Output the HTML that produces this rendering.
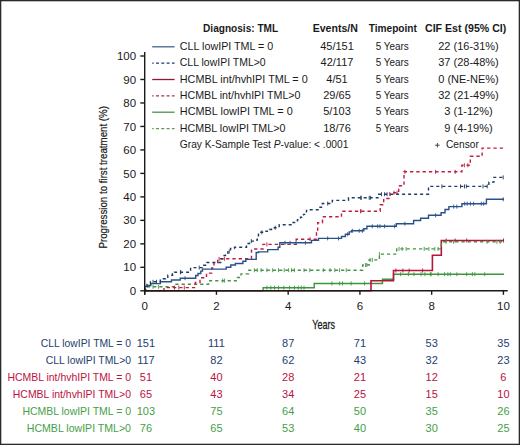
<!DOCTYPE html>
<html><head><meta charset="utf-8"><style>
html,body{margin:0;padding:0;background:#fff;}
svg{display:block;font-family:"Liberation Sans",sans-serif;}
</style></head><body>
<svg width="520" height="445" viewBox="0 0 520 445">
<rect x="0" y="0" width="520" height="445" fill="#fff"/>
<path d="M144.7,290.8H263.1V287.7H314.2V283.5H382.5V279.2H393.5V274.2H504" fill="none" stroke="#3c963c" stroke-width="1.4"/>
<path d="M266.9,285.7v4M270.8,285.7v4M274.6,285.7v4M278.5,285.7v4M283.8,285.7v4M289.6,285.7v4M294.4,285.7v4M298.3,285.7v4M301.2,285.7v4M304,285.7v4M331.9,281.5v4M339.6,281.5v4M342.5,281.5v4M351.2,281.5v4M364.6,281.5v4M400.6,272.2v4M408.4,272.2v4M413.9,272.2v4M421,272.2v4M424.9,272.2v4M430.4,272.2v4M431.2,272.2v4M438.1,272.2v4M444.6,272.2v4M447.9,272.2v4M450.3,272.2v4M456.9,272.2v4M466.7,272.2v4M472.4,272.2v4M474.9,272.2v4M484.7,272.2v4" stroke="#3c963c" stroke-width="0.9" fill="none"/>
<path d="M144.7,290.8H371V280.8H393.5V270.5H432.4V255.2H441.3V240.5H504" fill="none" stroke="#b8143a" stroke-width="1.6"/>
<path d="M395.9,268.5v4M402.9,268.5v4M409.2,268.5v4M422.6,268.5v4M446.2,238.5v4M455.2,238.5v4M466.7,238.5v4M503.5,238.5v4" stroke="#b8143a" stroke-width="0.9" fill="none"/>
<path d="M144.7,290.8H146V286.8H176V284.3H208.6V280.7H236.2V277.5H241V273.9H248.7V270.2H362.7V265H369.1V259.9H379.4V254.1H396.7V248.9H441.3V241.8H504" fill="none" stroke="#4a9245" stroke-width="1.4" stroke-dasharray="3.2,3"/>
<path d="M153,284.8v4M158.4,284.8v4M222.7,278.7v4M224.6,278.7v4M254.4,268.2v4M257.3,268.2v4M261.2,268.2v4M266.9,268.2v4M272.7,268.2v4M278.5,268.2v4M284.2,268.2v4M288.7,268.2v4M291.5,268.2v4M294.4,268.2v4M304,268.2v4M309.8,268.2v4M323.3,268.2v4M330,268.2v4M334.8,268.2v4M339.6,268.2v4M346.3,268.2v4M365.6,263v4M366.8,263v4M370,257.9v4M372.3,257.9v4M379.4,252.1v4M399,246.9v4M402.2,246.9v4M406.1,246.9v4M424.2,246.9v4M428.9,246.9v4M434.8,246.9v4M438.1,246.9v4M446,239.8v4M453.6,239.8v4M487.1,239.8v4M496.9,239.8v4M500.2,239.8v4" stroke="#4a9245" stroke-width="0.9" fill="none"/>
<path d="M144.7,290.8H164V287.6H195.3V282.5H200V277.8H206.5V273.1H211.8V268H214V262.9H217.7V258.8H251.5V249H263V244.4H296.2V239.2H316.5V232.7H317.7V222.7H322.5V216.8H341.5V211.2H380.2V204.8H383.7V198.5H390V192.7H398.7V185.8H404V171.8H461.9V165.3H470.3V156.3H482.1V148.1H504" fill="none" stroke="#c01c40" stroke-width="1.4" stroke-dasharray="3.3,3"/>
<path d="M174.5,285.6v4M178.8,285.6v4M184.3,285.6v4M219.1,256.8v4M224.4,256.8v4M266.9,242.4v4M310,237.2v4M360.8,209.2v4M360.6,209.2v4M394,190.7v4M397.1,190.7v4M404.9,169.8v4M435.6,169.8v4M455.2,169.8v4M464.4,163.3v4M467.8,163.3v4" stroke="#c01c40" stroke-width="0.9" fill="none"/>
<path d="M144.7,290.8H144.9V286.5H147.6V285.5H150.7V283.6H160.3V281.8H171.5V280.0H180.2V278.2H195.7V275.5H198V273.5H200.8V271.1H202.5V269.1H226.2V267.3H230.8V265.0H235.4V263.5H242.9V261.2H245.8V259.4H256.2V252.5H258.5V251.9H267.7V249.6H278.1V247.3H279.8V242.8H311.5V240.4H318.5V238.4H341.5V236.5H345.4V234.2H349.2V231.9H351.5V230.8H363.8V228.8H366.9V226.3H396.3V223.7H413.6V220.5H420.6V218.2H428.5V215.3H441.1V212.7H445.0V209.5H448.9V206.6H461.9V203.7H486.4V199.3H504" fill="none" stroke="#2a5089" stroke-width="1.4"/>
<path d="M185,276.2v4M285,240.8v4M290,240.8v4M296,240.8v4M305.4,240.8v4M327.7,236.4v4M338.5,236.4v4M347.7,232.2v4M352.3,228.8v4M359.2,228.8v4M362.3,228.8v4M372.3,224.3v4M377.7,224.3v4M380,224.3v4M384.6,224.3v4M394.7,224.3v4M404.9,221.7v4M435.6,213.3v4M453.7,204.6v4M456.8,204.6v4M464.7,201.7v4M467.2,201.7v4M470.4,201.7v4M473.6,201.7v4M481.3,201.7v4M483.7,201.7v4M503.2,197.3v4" stroke="#2a5089" stroke-width="0.9" fill="none"/>
<path d="M144.7,290.8H144.9V287.5H147V284.5H150.5V281.8H160.3V280.2H161.5V278.8H165.5V277.2H167.8V275.3H172.5V273.8H174.5V272.2H190.6V267.6H202.4V265.2H205.5V263.8H207V262.5H221.5V258.8H222.8V255.5H225.5V253.1H228V251.6H230.5V248.5H234.5V247.3H246.5V243.5H249.5V241.1H254.5V240.1H257.3V235.8H258.5V232.3H266V231.2H269.5V229.5H271.5V227.7H279.2V224.8H292.3V222.5H294.6V220.8H297.5V219.6H300.5V217.3H303.5V214.4H306.5V210.4H307.7V209.8H320V207.3H322.3V203.5H332.3V200.4H348.5V197.8H377.9V194.2H428.5V186.4H488.9V182.1H493.9V177.4H504" fill="none" stroke="#1f3a60" stroke-width="1.4" stroke-dasharray="3,3"/>
<path d="M153,279.8v4M156.5,279.8v4M180.7,270.2v4M180.4,270.2v4M199.2,265.6v4M229.2,249.6v4M251.3,239.1v4M261.9,230.3v4M275.2,225.7v4M327.7,201.5v4M360.8,195.8v4M361.2,195.8v4M369.2,195.8v4M370.4,195.8v4M381.5,192.2v4M384.6,192.2v4M387.1,192.2v4M441.9,184.4v4M460.5,184.4v4M464.5,184.4v4M466.3,184.4v4M483,184.4v4M487.2,184.4v4M503.2,175.4v4" stroke="#1f3a60" stroke-width="0.9" fill="none"/>
<text x="203.1" y="31.8" font-size="10.5" text-anchor="start" fill="#1a1a1a" font-weight="bold" textLength="75" lengthAdjust="spacingAndGlyphs" >Diagnosis: TML</text>
<text x="312.7" y="31.8" font-size="10.5" text-anchor="start" fill="#1a1a1a" font-weight="bold" textLength="45.2" lengthAdjust="spacingAndGlyphs" >Events/N</text>
<text x="368.7" y="31.8" font-size="10.5" text-anchor="start" fill="#1a1a1a" font-weight="bold" textLength="48.2" lengthAdjust="spacingAndGlyphs" >Timepoint</text>
<text x="425" y="31.8" font-size="10.5" text-anchor="start" fill="#1a1a1a" font-weight="bold" textLength="81.3" lengthAdjust="spacingAndGlyphs" >CIF Est (95% CI)</text>
<line x1="152.2" y1="46.8" x2="174.6" y2="46.8" stroke="#44648e" stroke-width="1.3"/>
<text x="179.8" y="49.9" font-size="11" text-anchor="start" fill="#1a1a1a" font-weight="normal" textLength="93.5" lengthAdjust="spacingAndGlyphs" >CLL lowIPI TML = 0</text>
<text x="337" y="49.9" font-size="11" text-anchor="middle" fill="#1a1a1a" font-weight="normal" >45/151</text>
<text x="392.3" y="49.9" font-size="11" text-anchor="middle" fill="#1a1a1a" font-weight="normal" textLength="33" lengthAdjust="spacingAndGlyphs" >5 Years</text>
<text x="468.5" y="49.9" font-size="11" text-anchor="middle" fill="#1a1a1a" font-weight="normal" >22 (16-31%)</text>
<line x1="152.2" y1="63.199999999999996" x2="174.6" y2="63.199999999999996" stroke="#1f3d6a" stroke-width="1.3" stroke-dasharray="3,2.3" stroke-dashoffset="1.5"/>
<text x="179.8" y="66.3" font-size="11" text-anchor="start" fill="#1a1a1a" font-weight="normal" textLength="85.9" lengthAdjust="spacingAndGlyphs" >CLL lowIPI TML&gt;0</text>
<text x="337" y="66.3" font-size="11" text-anchor="middle" fill="#1a1a1a" font-weight="normal" >42/117</text>
<text x="392.3" y="66.3" font-size="11" text-anchor="middle" fill="#1a1a1a" font-weight="normal" textLength="33" lengthAdjust="spacingAndGlyphs" >5 Years</text>
<text x="468.5" y="66.3" font-size="11" text-anchor="middle" fill="#1a1a1a" font-weight="normal" >37 (28-48%)</text>
<line x1="152.2" y1="79.5" x2="174.6" y2="79.5" stroke="#8e1b33" stroke-width="1.3"/>
<text x="179.8" y="82.6" font-size="11" text-anchor="start" fill="#1a1a1a" font-weight="normal" textLength="127.9" lengthAdjust="spacingAndGlyphs" >HCMBL int/hvhIPI TML = 0</text>
<text x="337" y="82.6" font-size="11" text-anchor="middle" fill="#1a1a1a" font-weight="normal" >4/51</text>
<text x="392.3" y="82.6" font-size="11" text-anchor="middle" fill="#1a1a1a" font-weight="normal" textLength="33" lengthAdjust="spacingAndGlyphs" >5 Years</text>
<text x="468.5" y="82.6" font-size="11" text-anchor="middle" fill="#1a1a1a" font-weight="normal" >0 (NE-NE%)</text>
<line x1="152.2" y1="95.9" x2="174.6" y2="95.9" stroke="#a8324e" stroke-width="1.3" stroke-dasharray="3,2.3" stroke-dashoffset="1.5"/>
<text x="179.8" y="99.0" font-size="11" text-anchor="start" fill="#1a1a1a" font-weight="normal" textLength="120.7" lengthAdjust="spacingAndGlyphs" >HCMBL int/hvhIPI TML&gt;0</text>
<text x="337" y="99.0" font-size="11" text-anchor="middle" fill="#1a1a1a" font-weight="normal" >29/65</text>
<text x="392.3" y="99.0" font-size="11" text-anchor="middle" fill="#1a1a1a" font-weight="normal" textLength="33" lengthAdjust="spacingAndGlyphs" >5 Years</text>
<text x="468.5" y="99.0" font-size="11" text-anchor="middle" fill="#1a1a1a" font-weight="normal" >32 (21-49%)</text>
<line x1="152.2" y1="112.2" x2="174.6" y2="112.2" stroke="#4f8f4a" stroke-width="1.3"/>
<text x="179.8" y="115.3" font-size="11" text-anchor="start" fill="#1a1a1a" font-weight="normal" textLength="112.9" lengthAdjust="spacingAndGlyphs" >HCMBL lowIPI TML = 0</text>
<text x="337" y="115.3" font-size="11" text-anchor="middle" fill="#1a1a1a" font-weight="normal" >5/103</text>
<text x="392.3" y="115.3" font-size="11" text-anchor="middle" fill="#1a1a1a" font-weight="normal" textLength="33" lengthAdjust="spacingAndGlyphs" >5 Years</text>
<text x="468.5" y="115.3" font-size="11" text-anchor="middle" fill="#1a1a1a" font-weight="normal" >3 (1-12%)</text>
<line x1="152.2" y1="128.6" x2="174.6" y2="128.6" stroke="#5f9a55" stroke-width="1.3" stroke-dasharray="3,2.3" stroke-dashoffset="1.5"/>
<text x="179.8" y="131.7" font-size="11" text-anchor="start" fill="#1a1a1a" font-weight="normal" textLength="105.6" lengthAdjust="spacingAndGlyphs" >HCMBL lowIPI TML&gt;0</text>
<text x="337" y="131.7" font-size="11" text-anchor="middle" fill="#1a1a1a" font-weight="normal" >18/76</text>
<text x="392.3" y="131.7" font-size="11" text-anchor="middle" fill="#1a1a1a" font-weight="normal" textLength="33" lengthAdjust="spacingAndGlyphs" >5 Years</text>
<text x="468.5" y="131.7" font-size="11" text-anchor="middle" fill="#1a1a1a" font-weight="normal" >9 (4-19%)</text>
<text x="179.8" y="148" font-size="11" text-anchor="start" fill="#1a1a1a" font-weight="normal" textLength="168.6" lengthAdjust="spacingAndGlyphs" >Gray K-Sample Test <tspan font-style="italic">P</tspan>-value: &lt; .0001</text>
<path d="M435.2,145.2H439.6M437.4,143V147.4" stroke="#333" stroke-width="0.9"/>
<text x="446" y="148.4" font-size="11" text-anchor="start" fill="#1a1a1a" font-weight="normal" textLength="32.8" lengthAdjust="spacingAndGlyphs" >Censor</text>
<line x1="144.7" y1="52" x2="144.7" y2="294.8" stroke="#1a1a1a" stroke-width="1.4"/>
<line x1="144.7" y1="290.8" x2="507.7" y2="290.8" stroke="#1a1a1a" stroke-width="1.4"/>
<line x1="140.3" y1="290.80" x2="144.7" y2="290.80" stroke="#1a1a1a" stroke-width="1.4"/>
<text x="136.1" y="294.90000000000003" font-size="11.5" text-anchor="end" fill="#1a1a1a" font-weight="normal" >0</text>
<line x1="140.3" y1="267.32" x2="144.7" y2="267.32" stroke="#1a1a1a" stroke-width="1.4"/>
<text x="136.1" y="271.42" font-size="11.5" text-anchor="end" fill="#1a1a1a" font-weight="normal" >10</text>
<line x1="140.3" y1="243.84" x2="144.7" y2="243.84" stroke="#1a1a1a" stroke-width="1.4"/>
<text x="136.1" y="247.94000000000003" font-size="11.5" text-anchor="end" fill="#1a1a1a" font-weight="normal" >20</text>
<line x1="140.3" y1="220.36" x2="144.7" y2="220.36" stroke="#1a1a1a" stroke-width="1.4"/>
<text x="136.1" y="224.46" font-size="11.5" text-anchor="end" fill="#1a1a1a" font-weight="normal" >30</text>
<line x1="140.3" y1="196.88" x2="144.7" y2="196.88" stroke="#1a1a1a" stroke-width="1.4"/>
<text x="136.1" y="200.98000000000002" font-size="11.5" text-anchor="end" fill="#1a1a1a" font-weight="normal" >40</text>
<line x1="140.3" y1="173.40" x2="144.7" y2="173.40" stroke="#1a1a1a" stroke-width="1.4"/>
<text x="136.1" y="177.50000000000003" font-size="11.5" text-anchor="end" fill="#1a1a1a" font-weight="normal" >50</text>
<line x1="140.3" y1="149.92" x2="144.7" y2="149.92" stroke="#1a1a1a" stroke-width="1.4"/>
<text x="136.1" y="154.02" font-size="11.5" text-anchor="end" fill="#1a1a1a" font-weight="normal" >60</text>
<line x1="140.3" y1="126.44" x2="144.7" y2="126.44" stroke="#1a1a1a" stroke-width="1.4"/>
<text x="136.1" y="130.54000000000002" font-size="11.5" text-anchor="end" fill="#1a1a1a" font-weight="normal" >70</text>
<line x1="140.3" y1="102.96" x2="144.7" y2="102.96" stroke="#1a1a1a" stroke-width="1.4"/>
<text x="136.1" y="107.06000000000003" font-size="11.5" text-anchor="end" fill="#1a1a1a" font-weight="normal" >80</text>
<line x1="140.3" y1="79.48" x2="144.7" y2="79.48" stroke="#1a1a1a" stroke-width="1.4"/>
<text x="136.1" y="83.58000000000001" font-size="11.5" text-anchor="end" fill="#1a1a1a" font-weight="normal" >90</text>
<line x1="140.3" y1="56.00" x2="144.7" y2="56.00" stroke="#1a1a1a" stroke-width="1.4"/>
<text x="136.1" y="60.10000000000003" font-size="11.5" text-anchor="end" fill="#1a1a1a" font-weight="normal" >100</text>
<line x1="144.70" y1="290.8" x2="144.70" y2="294.8" stroke="#1a1a1a" stroke-width="1.4"/>
<text x="144.7" y="309.9" font-size="11.5" text-anchor="middle" fill="#1a1a1a" font-weight="normal" >0</text>
<line x1="216.44" y1="290.8" x2="216.44" y2="294.8" stroke="#1a1a1a" stroke-width="1.4"/>
<text x="216.44" y="309.9" font-size="11.5" text-anchor="middle" fill="#1a1a1a" font-weight="normal" >2</text>
<line x1="288.18" y1="290.8" x2="288.18" y2="294.8" stroke="#1a1a1a" stroke-width="1.4"/>
<text x="288.17999999999995" y="309.9" font-size="11.5" text-anchor="middle" fill="#1a1a1a" font-weight="normal" >4</text>
<line x1="359.92" y1="290.8" x2="359.92" y2="294.8" stroke="#1a1a1a" stroke-width="1.4"/>
<text x="359.91999999999996" y="309.9" font-size="11.5" text-anchor="middle" fill="#1a1a1a" font-weight="normal" >6</text>
<line x1="431.66" y1="290.8" x2="431.66" y2="294.8" stroke="#1a1a1a" stroke-width="1.4"/>
<text x="431.65999999999997" y="309.9" font-size="11.5" text-anchor="middle" fill="#1a1a1a" font-weight="normal" >8</text>
<line x1="503.40" y1="290.8" x2="503.40" y2="294.8" stroke="#1a1a1a" stroke-width="1.4"/>
<text x="503.4" y="309.9" font-size="11.5" text-anchor="middle" fill="#1a1a1a" font-weight="normal" >10</text>
<text x="0" y="0" font-size="11" fill="#1a1a1a" text-anchor="middle" textLength="142.5" lengthAdjust="spacingAndGlyphs" stroke="#1a1a1a" stroke-width="0.2" transform="translate(107.2,177.3) rotate(-90)">Progression to first treatment (%)</text>
<text x="323.7" y="328.8" font-size="13.2" fill="#1a1a1a" text-anchor="middle" textLength="22.7" lengthAdjust="spacingAndGlyphs" stroke="#1a1a1a" stroke-width="0.3">Years</text>
<text x="131" y="347.3" font-size="11" text-anchor="end" fill="#24406e" font-weight="normal" textLength="90.2" lengthAdjust="spacingAndGlyphs" >CLL lowIPI TML = 0</text>
<text x="145.9" y="347.3" font-size="11" text-anchor="middle" fill="#24406e" font-weight="normal" >151</text>
<text x="216.44" y="347.3" font-size="11" text-anchor="middle" fill="#24406e" font-weight="normal" >111</text>
<text x="288.18" y="347.3" font-size="11" text-anchor="middle" fill="#24406e" font-weight="normal" >87</text>
<text x="359.92" y="347.3" font-size="11" text-anchor="middle" fill="#24406e" font-weight="normal" >71</text>
<text x="431.66" y="347.3" font-size="11" text-anchor="middle" fill="#24406e" font-weight="normal" >53</text>
<text x="503.4" y="347.3" font-size="11" text-anchor="middle" fill="#24406e" font-weight="normal" >35</text>
<text x="131" y="364.2" font-size="11" text-anchor="end" fill="#24406e" font-weight="normal" textLength="85.2" lengthAdjust="spacingAndGlyphs" >CLL lowIPI TML&gt;0</text>
<text x="145.9" y="364.2" font-size="11" text-anchor="middle" fill="#24406e" font-weight="normal" >117</text>
<text x="216.44" y="364.2" font-size="11" text-anchor="middle" fill="#24406e" font-weight="normal" >82</text>
<text x="288.18" y="364.2" font-size="11" text-anchor="middle" fill="#24406e" font-weight="normal" >62</text>
<text x="359.92" y="364.2" font-size="11" text-anchor="middle" fill="#24406e" font-weight="normal" >43</text>
<text x="431.66" y="364.2" font-size="11" text-anchor="middle" fill="#24406e" font-weight="normal" >32</text>
<text x="503.4" y="364.2" font-size="11" text-anchor="middle" fill="#24406e" font-weight="normal" >23</text>
<text x="131" y="381.1" font-size="11" text-anchor="end" fill="#bb1241" font-weight="normal" textLength="123.6" lengthAdjust="spacingAndGlyphs" >HCMBL int/hvhIPI TML = 0</text>
<text x="145.9" y="381.1" font-size="11" text-anchor="middle" fill="#bb1241" font-weight="normal" >51</text>
<text x="216.44" y="381.1" font-size="11" text-anchor="middle" fill="#bb1241" font-weight="normal" >40</text>
<text x="288.18" y="381.1" font-size="11" text-anchor="middle" fill="#bb1241" font-weight="normal" >28</text>
<text x="359.92" y="381.1" font-size="11" text-anchor="middle" fill="#bb1241" font-weight="normal" >21</text>
<text x="431.66" y="381.1" font-size="11" text-anchor="middle" fill="#bb1241" font-weight="normal" >12</text>
<text x="503.4" y="381.1" font-size="11" text-anchor="middle" fill="#bb1241" font-weight="normal" >6</text>
<text x="131" y="398.1" font-size="11" text-anchor="end" fill="#bb1241" font-weight="normal" textLength="118.2" lengthAdjust="spacingAndGlyphs" >HCMBL int/hvhIPI TML&gt;0</text>
<text x="145.9" y="398.1" font-size="11" text-anchor="middle" fill="#bb1241" font-weight="normal" >65</text>
<text x="216.44" y="398.1" font-size="11" text-anchor="middle" fill="#bb1241" font-weight="normal" >43</text>
<text x="288.18" y="398.1" font-size="11" text-anchor="middle" fill="#bb1241" font-weight="normal" >34</text>
<text x="359.92" y="398.1" font-size="11" text-anchor="middle" fill="#bb1241" font-weight="normal" >25</text>
<text x="431.66" y="398.1" font-size="11" text-anchor="middle" fill="#bb1241" font-weight="normal" >15</text>
<text x="503.4" y="398.1" font-size="11" text-anchor="middle" fill="#bb1241" font-weight="normal" >10</text>
<text x="131" y="415.3" font-size="11" text-anchor="end" fill="#45a048" font-weight="normal" textLength="108.6" lengthAdjust="spacingAndGlyphs" >HCMBL lowIPI TML = 0</text>
<text x="145.9" y="415.3" font-size="11" text-anchor="middle" fill="#45a048" font-weight="normal" >103</text>
<text x="216.44" y="415.3" font-size="11" text-anchor="middle" fill="#45a048" font-weight="normal" >75</text>
<text x="288.18" y="415.3" font-size="11" text-anchor="middle" fill="#45a048" font-weight="normal" >64</text>
<text x="359.92" y="415.3" font-size="11" text-anchor="middle" fill="#45a048" font-weight="normal" >50</text>
<text x="431.66" y="415.3" font-size="11" text-anchor="middle" fill="#45a048" font-weight="normal" >35</text>
<text x="503.4" y="415.3" font-size="11" text-anchor="middle" fill="#45a048" font-weight="normal" >26</text>
<text x="131" y="432.4" font-size="11" text-anchor="end" fill="#45a048" font-weight="normal" textLength="104.2" lengthAdjust="spacingAndGlyphs" >HCMBL lowIPI TML&gt;0</text>
<text x="145.9" y="432.4" font-size="11" text-anchor="middle" fill="#45a048" font-weight="normal" >76</text>
<text x="216.44" y="432.4" font-size="11" text-anchor="middle" fill="#45a048" font-weight="normal" >65</text>
<text x="288.18" y="432.4" font-size="11" text-anchor="middle" fill="#45a048" font-weight="normal" >53</text>
<text x="359.92" y="432.4" font-size="11" text-anchor="middle" fill="#45a048" font-weight="normal" >40</text>
<text x="431.66" y="432.4" font-size="11" text-anchor="middle" fill="#45a048" font-weight="normal" >30</text>
<text x="503.4" y="432.4" font-size="11" text-anchor="middle" fill="#45a048" font-weight="normal" >25</text>
<rect x="0.65" y="0.65" width="518.7" height="443.7" fill="none" stroke="#2a2a2a" stroke-width="1.3"/>
</svg>
</body></html>
